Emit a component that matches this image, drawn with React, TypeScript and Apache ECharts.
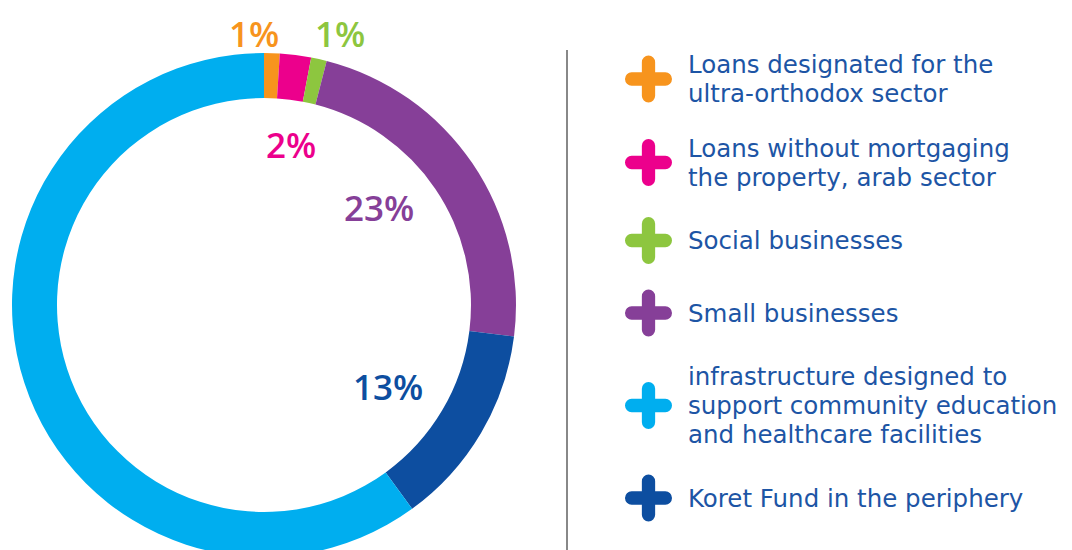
import React, { useEffect, useRef } from "react";
import * as echarts from "echarts";

const categories = [
  "Loans designated for the\nultra-orthodox sector",
  "Loans without mortgaging\nthe property, arab sector",
  "Social businesses",
  "Small businesses",
  "Koret Fund in the periphery",
  "infrastructure designed to\nsupport community education\nand healthcare facilities",
];
const values = [1, 2, 1, 23, 13, 60];
const colors = ["#F7941D", "#EC008C", "#8DC63F", "#863F98", "#0D4EA0", "#00AEEF"];
const legendOrder = [0, 1, 2, 3, 5, 4];
const labelPos: [number, number][] = [
  [254, 33],
  [291, 144],
  [340, 33],
  [379, 207],
  [388, 386],
  [116, 313],
];

const PLUS =
  "path://M16.5,6.5 A6.5,6.5 0 0 1 29.5,6.5 L29.5,16.5 L39.5,16.5 A6.5,6.5 0 0 1 39.5,29.5 L29.5,29.5 L29.5,39.5 A6.5,6.5 0 0 1 16.5,39.5 L16.5,29.5 L6.5,29.5 A6.5,6.5 0 0 1 6.5,16.5 L16.5,16.5 Z";

export default function App() {
  const ref = useRef<HTMLDivElement>(null);
  useEffect(() => {
    const chart = echarts.init(ref.current!, undefined, { renderer: "svg" });
    chart.setOption({
      animation: false,
      backgroundColor: "#ffffff",
      legend: {
        orient: "vertical",
        left: 620,
        top: 45,
        itemWidth: 47,
        itemHeight: 47,
        itemGap: 25.5,
        icon: PLUS,
        selectedMode: false,
        data: legendOrder.map((i) => ({ name: categories[i], itemStyle: { color: colors[i] } })),
        textStyle: {
          fontFamily: "DejaVu Sans",
          fontSize: 24.5,
          color: "#1D55A5",
          lineHeight: 29,
          padding: [0, 0, 0, 11],
        },
      },
      graphic: [
        {
          type: "line",
          shape: { x1: 567, y1: 50, x2: 567, y2: 550 },
          style: { stroke: "#888888", lineWidth: 2 },
        },
      ],
      series: [
        {
          type: "pie",
          center: [264, 305],
          radius: [207, 252],
          startAngle: 90,
          clockwise: true,
          silent: true,
          data: values.map((v, i) => ({
            name: categories[i],
            value: v,
            itemStyle: { color: colors[i] },
            label: { color: colors[i] },
          })),
          label: {
            show: true,
            formatter: "{c}%",
            fontFamily: "Open Sans",
            fontSize: 35,
            fontWeight: 600,
          },
          labelLine: { show: false },
          labelLayout: (p: any) => ({
            x: labelPos[p.dataIndex][0],
            y: labelPos[p.dataIndex][1],
            align: "center",
            verticalAlign: "middle",
          }),
        },
      ],
    });
    return () => chart.dispose();
  }, []);
  return (
    <div
      ref={ref}
      style={{ position: "fixed", left: 0, top: 0, width: 1072, height: 550 }}
    />
  );
}
